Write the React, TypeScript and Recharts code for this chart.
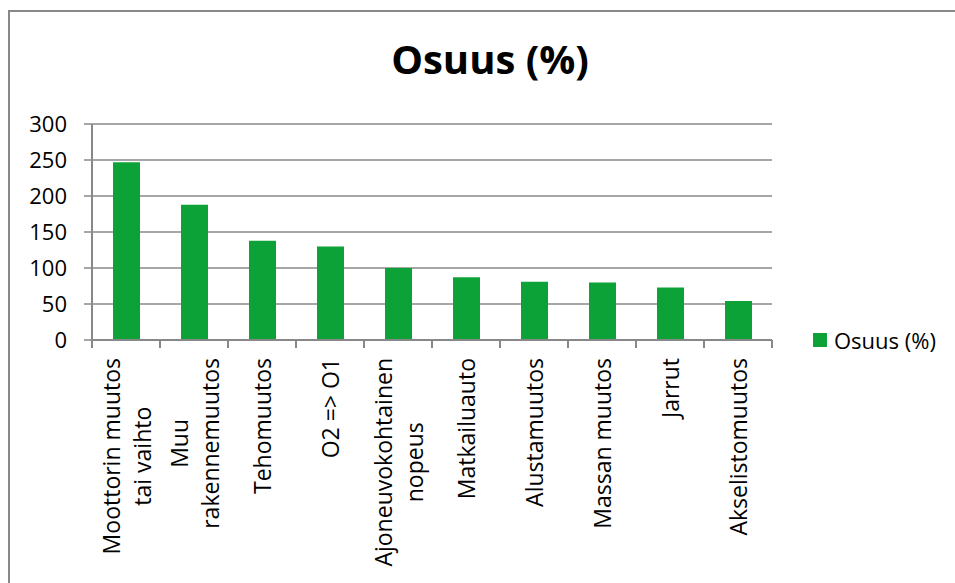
import { BarChart, Bar, XAxis, YAxis, CartesianGrid, Legend } from 'recharts';

const categories = [
  'Moottorin muutos\ntai vaihto',
  'Muu\nrakennemuutos',
  'Tehomuutos',
  'O2 => O1',
  'Ajoneuvokohtainen\nnopeus',
  'Matkailuauto',
  'Alustamuutos',
  'Massan muutos',
  'Jarrut',
  'Akselistomuutos',
];
const osuus = [247, 188, 138, 130, 100, 87, 81, 80, 73, 54];
const yTicks = [0, 50, 100, 150, 200, 250, 300];
const seriesName = 'Osuus (%)';

const data = categories.map((name, i) => ({ name, value: osuus[i] }));

const FONT = "'Open Sans', sans-serif";
const LABEL_SIZE = 23;
const AXIS_SIZE = 22;
const GREEN = '#0ca238';
const GRAY = '#888888';

const W = 955;
const H = 583;
const PLOT_LEFT = 92;
const PLOT_RIGHT = 772;
const PLOT_TOP = 124;
const PLOT_BOTTOM = 340;
const BAND = (PLOT_RIGHT - PLOT_LEFT) / categories.length;
const X_TICK = 8;
const X_MARGIN = 10;
const LINE_GAP = 31;

let ctx: CanvasRenderingContext2D | null = null;
const measure = (s: string) => {
  if (!ctx) {
    ctx = document.createElement('canvas').getContext('2d');
  }
  if (!ctx) return s.length * 11;
  ctx.font = `${LABEL_SIZE}px ${FONT}`;
  return ctx.measureText(s).width;
};

const CategoryTick = (props: any) => {
  const { x, y, payload, index } = props;
  const axisY = y - X_TICK - X_MARGIN;
  const lines: string[] = String(payload.value).split('\n');
  const longest = Math.max(...lines.map(measure));
  const center = longest / 2;
  const n = lines.length;
  return (
    <g>
      <line x1={x - BAND / 2} x2={x - BAND / 2} y1={axisY} y2={axisY + X_TICK} stroke={GRAY} strokeWidth={2} />
      {index === categories.length - 1 && (
        <line x1={x + BAND / 2} x2={x + BAND / 2} y1={axisY} y2={axisY + X_TICK} stroke={GRAY} strokeWidth={2} />
      )}
      <g transform={`translate(${x},${y})`}>
        <text transform="rotate(-90)" fontFamily={FONT} fontSize={LABEL_SIZE} fill="#000" textAnchor="middle">
          {lines.map((l, i) => (
            <tspan key={i} x={-center} y={(i - (n - 1) / 2) * LINE_GAP + 9}>
              {l}
            </tspan>
          ))}
        </text>
      </g>
    </g>
  );
};

const LegendContent = () => (
  <div style={{ display: 'flex', alignItems: 'center', fontFamily: FONT, fontSize: AXIS_SIZE, color: '#000' }}>
    <span style={{ display: 'inline-block', width: 14, height: 14, background: GREEN, marginRight: 7 }} />
    <span>{seriesName}</span>
  </div>
);

export default function App() {
  return (
    <div style={{ position: 'fixed', left: 0, top: 0, width: W, height: H, background: '#fff', overflow: 'hidden' }}>
      <div
        style={{
          position: 'absolute',
          left: 8,
          top: 10,
          width: 1100,
          height: 800,
          borderLeft: `2px solid ${GRAY}`,
          borderTop: `2px solid ${GRAY}`,
        }}
      />
      <div
        style={{
          position: 'absolute',
          left: 290,
          width: 400,
          top: 31,
          textAlign: 'center',
          fontFamily: FONT,
          fontWeight: 700,
          fontSize: 40,
          lineHeight: '56px',
          color: '#000',
        }}
      >
        {seriesName}
      </div>
      <div style={{ position: 'absolute', left: 0, top: 0 }}>
        <BarChart
          width={W}
          height={H}
          data={data}
          margin={{ top: PLOT_TOP, right: W - PLOT_RIGHT, bottom: 0, left: 0 }}
          barSize={27}
        >
          <CartesianGrid vertical={false} stroke={GRAY} strokeWidth={1.5} />
          <XAxis
            dataKey="name"
            interval={0}
            height={H - PLOT_BOTTOM}
            tickLine={false}
            tickSize={X_TICK}
            tickMargin={X_MARGIN}
            axisLine={{ stroke: GRAY, strokeWidth: 2 }}
            tick={<CategoryTick />}
          />
          <YAxis
            width={PLOT_LEFT}
            domain={[0, 300]}
            ticks={yTicks}
            interval={0}
            tickSize={8}
            tickMargin={17}
            axisLine={{ stroke: GRAY, strokeWidth: 2 }}
            tickLine={{ stroke: GRAY, strokeWidth: 1.5 }}
            tick={{ fontFamily: FONT, fontSize: AXIS_SIZE, fill: '#000' }}
          />
          <Legend
            layout="vertical"
            align="center"
            verticalAlign="middle"
            content={<LegendContent />}
            wrapperStyle={{ left: 813, top: 325, width: 140 }}
          />
          <Bar dataKey="value" name={seriesName} fill={GREEN} isAnimationActive={false} />
        </BarChart>
      </div>
    </div>
  );
}
